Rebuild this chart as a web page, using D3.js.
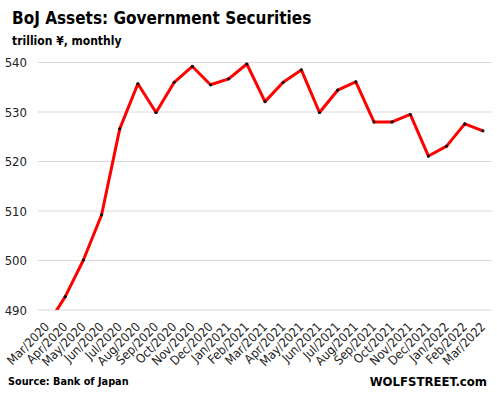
<!DOCTYPE html>
<html>
<head>
<meta charset="utf-8">
<script src="https://cdn.jsdelivr.net/npm/d3@7"></script>
<style>
body { margin: 0; background: #fff; }
svg text { font-family: "DejaVu Sans Condensed", "DejaVu Sans", Verdana, sans-serif; font-stretch: condensed; }
</style>
</head>
<body>
<div id="chart"></div>
<script>
var months = ["Mar/2020","Apr/2020","May/2020","Jun/2020","Jul/2020","Aug/2020","Sep/2020","Oct/2020",
	"Nov/2020","Dec/2020","Jan/2021","Feb/2021","Mar/2021","Apr/2021","May/2021","Jun/2021","Jul/2021",
	"Aug/2021","Sep/2021","Oct/2021","Nov/2021","Dec/2021","Jan/2022","Feb/2022","Mar/2022"];
var assets = [486.9, 492.7, 500.1, 509.2, 526.6, 535.7, 529.9, 536.0, 539.2, 535.5, 536.7, 539.7,
	532.1, 536.0, 538.5, 529.9, 534.4, 536.1, 528.0, 528.0, 529.5, 521.1, 523.1, 527.6, 526.2];
var yTicks = [490, 500, 510, 520, 530, 540];

var width = 497, height = 396;
var margin = {top: 62.5, right: 5, bottom: 86, left: 38};

var svg = d3.select("#chart").append("svg")
	.attr("width", width)
	.attr("height", height);

var xscale = d3.scaleBand().domain(months).range([margin.left, width - margin.right]);
// 490 sits at y=310
var yscale = d3.scaleLinear().domain([490, 540]).range([310, margin.top]);

// gridlines
svg.append("g").selectAll("line")
	.data(yTicks).enter()
	.append("line")
	.attr("x1", margin.left)
	.attr("x2", width - margin.right)
	.attr("y1", function(d){return yscale(d)})
	.attr("y2", function(d){return yscale(d)})
	.style("stroke", "#d9d9d9")
	.style("stroke-width", "1px");

var yAxis = d3.axisLeft(yscale).tickValues(yTicks).tickSize(0).tickPadding(11);
var gy = svg.append("g")
	.attr("transform", "translate(" + (margin.left) + ",0)")
	.call(yAxis);
gy.select(".domain").remove();
gy.selectAll("text")
	.style("font-size", "13px")
	.style("fill", "#222");

var xAxis = d3.axisBottom(xscale).tickSize(0).tickPadding(0);
var gx = svg.append("g")
	.attr("transform", "translate(0,319)")
	.call(xAxis);
gx.select(".domain").remove();
gx.selectAll("text")
	.attr("dy", "0.35em")
	.attr("y", 0)
	.attr("x", 0)
	.attr("transform", "rotate(-45) translate(-4,4)")
	.style("text-anchor", "end")
	.style("font-size", "12.5px")
	.style("fill", "#222");

// line, clipped to plot area
svg.append("clipPath").attr("id", "clip")
	.append("rect")
	.attr("x", margin.left).attr("y", 40)
	.attr("width", width - margin.left - margin.right)
	.attr("height", yscale(490) - 40);

var line = d3.line()
	.x(function(d, i){return xscale(months[i]) + xscale.bandwidth() / 2})
	.y(function(d){return yscale(d)});

var plot = svg.append("g").attr("clip-path", "url(#clip)");
plot.append("path")
	.datum(assets)
	.attr("d", line)
	.style("fill", "none")
	.style("stroke", "#ff0000")
	.style("stroke-width", "3px")
	.style("stroke-linejoin", "round");

plot.selectAll("circle")
	.data(assets).enter()
	.append("circle")
	.attr("cx", function(d, i){return xscale(months[i]) + xscale.bandwidth() / 2})
	.attr("cy", function(d){return yscale(d)})
	.attr("r", 1.6)
	.style("fill", "#111");

// titles
svg.append("text")
	.attr("x", 12).attr("y", 24)
	.style("font-size", "17px")
	.style("font-weight", "bold")
	.text("BoJ Assets: Government Securities");

svg.append("text")
	.attr("x", 12).attr("y", 45)
	.style("font-size", "12px")
	.style("font-weight", "bold")
	.text("trillion ¥, monthly");

svg.append("text")
	.attr("x", 8).attr("y", 385)
	.style("font-size", "10.8px")
	.style("font-weight", "bold")
	.text("Source: Bank of Japan");

svg.append("text")
	.attr("x", 487).attr("y", 386)
	.style("text-anchor", "end")
	.style("font-size", "13px")
	.style("font-weight", "bold")
	.text("WOLFSTREET.com");
</script>
</body>
</html>
